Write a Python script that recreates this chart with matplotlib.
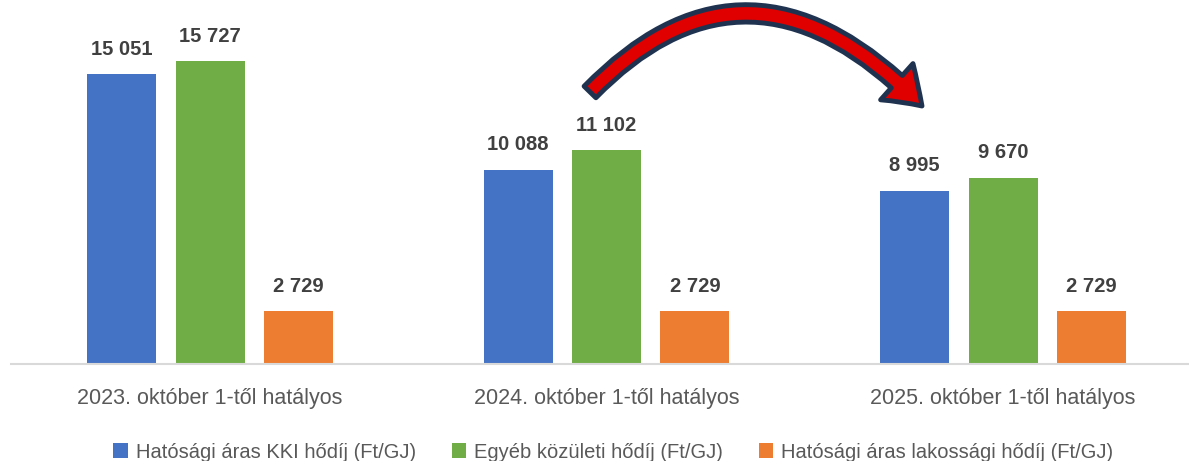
import numpy as np
import matplotlib.pyplot as plt
from matplotlib.patches import FancyArrowPatch
from matplotlib.path import Path

# adatok
categories = ["2023. október 1-től hatályos", "2024. október 1-től hatályos", "2025. október 1-től hatályos"]
kki = [15051, 10088, 8995]
egyeb = [15727, 11102, 9670]
lakossagi = [2729, 2729, 2729]
series_names = ["Hatósági áras KKI hődíj (Ft/GJ)", "Egyéb közületi hődíj (Ft/GJ)",
                "Hatósági áras lakossági hődíj (Ft/GJ)"]
colors = ["#4472C4", "#70AD47", "#ED7D31"]

W, H = 1189, 461
fig = plt.figure(figsize=(W / 100, H / 100), dpi=100)
ax = fig.add_axes([11 / W, 97 / H, 1178 / W, 364 / H])

x = np.arange(len(categories))
width = 0.174
offset = 0.223
for i, (vals, name, c) in enumerate(zip([kki, egyeb, lakossagi], series_names, colors)):
    bars = ax.bar(x + (i - 1) * offset, vals, width, color=c, label=name)
    for b, v in zip(bars, vals):
        lab = f"{v:,}".replace(",", " ")
        ax.annotate(lab, (b.get_x() + b.get_width() / 2, v), xytext=(0, 11),
                    textcoords="offset points", ha="center", va="bottom",
                    fontsize=14.5, fontweight="bold", color="#404040",
                    family="Liberation Sans")

ax.set_xlim(-0.502, 2.469)
ax.set_ylim(0, 18890)
ax.set_yticks([])
ax.set_xticks(x)
ax.set_xticklabels(categories, fontsize=15.5, color="#595959", family="Liberation Sans")
ax.tick_params(axis="x", length=0, pad=17)
for s in ["top", "right", "left"]:
    ax.spines[s].set_visible(False)
ax.spines["bottom"].set_color("#D9D9D9")
ax.spines["bottom"].set_linewidth(1.5)

# ives nyil (pixel -> figure koordinatak)
def fp(px, py):
    return (px / W, 1 - py / H)

pts = [fp(590, 92), fp(750, -72), fp(922, 106)]
arc = Path(pts, [Path.MOVETO, Path.CURVE3, Path.CURVE3])
arrow = FancyArrowPatch(path=arc, transform=fig.transFigure,
                        arrowstyle="simple,head_width=2.5,head_length=1.8,tail_width=0.85",
                        mutation_scale=14, facecolor="#E00000", edgecolor="#1F3350",
                        linewidth=3.5)
fig.patches.append(arrow)

fig.legend(loc="center", bbox_to_anchor=(0.516, 1 - 452 / H), ncol=3, frameon=False,
           prop={"family": "Liberation Sans", "size": 14.5}, labelcolor="#595959",
           handlelength=0.7, handleheight=0.7, handletextpad=0.4, columnspacing=1.8)

fig.savefig("out.png", dpi=100)
